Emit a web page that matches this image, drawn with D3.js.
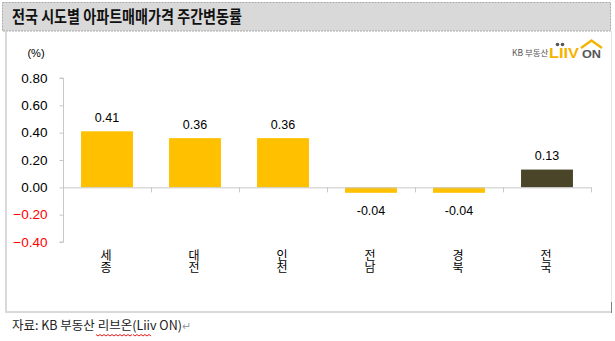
<!DOCTYPE html>
<html>
<head>
<meta charset="utf-8">
<script src="https://cdn.jsdelivr.net/npm/d3@7"></script>
<style>
  html, body { margin: 0; padding: 0; background: #fff; }
  svg { display: block; }
  .vcat { writing-mode: vertical-rl; text-orientation: upright; }
</style>
</head>
<body>
<svg id="chart" width="615" height="341"></svg>
<script>
// Weekly apartment sale price change by region (%)
const regions = ["세종", "대전", "인천", "전남", "경북", "전국"];
const changes = [0.41, 0.36, 0.36, -0.04, -0.04, 0.13];
const yTicks = [0.8, 0.6, 0.4, 0.2, 0.0, -0.2, -0.4];

const svg = d3.select("#chart");
const KR = "'Malgun Gothic','Noto Sans CJK KR',sans-serif";
const NUM = "'Liberation Sans',Arial,sans-serif";

// Title bar
svg.append("rect")
  .attr("x", 2.5).attr("y", 2.5).attr("width", 608).attr("height", 28.5)
  .attr("fill", "#d9d9d9").attr("stroke", "#a6a6a6")
  .attr("stroke-dasharray", "2,1");
svg.append("text")
  .attr("x", 12).attr("y", 23)
  .attr("font-family", KR).attr("font-size", 16.5).attr("font-weight", "bold")
  .attr("fill", "#111")
  .attr("textLength", 230).attr("lengthAdjust", "spacingAndGlyphs")
  .text("전국 시도별 아파트매매가격 주간변동률");

// Chart frame
const frame = svg.append("g").attr("fill", "none");
frame.append("line").attr("x1", 6).attr("x2", 6).attr("y1", 31).attr("y2", 312)
  .attr("stroke", "#d9d9d9").attr("stroke-width", 2);
frame.append("line").attr("x1", 5).attr("x2", 611).attr("y1", 312).attr("y2", 312)
  .attr("stroke", "#d9d9d9").attr("stroke-width", 2);
frame.append("line").attr("x1", 611.5).attr("x2", 611.5).attr("y1", 31).attr("y2", 303)
  .attr("stroke", "#e6e6e6").attr("stroke-width", 1);
frame.append("line").attr("x1", 611.5).attr("x2", 611.5).attr("y1", 302).attr("y2", 313)
  .attr("stroke", "#808080").attr("stroke-width", 1);

// Scales
const x = d3.scaleBand().domain(regions).range([63, 591]).paddingInner(0.41).paddingOuter(0.205);
const y = d3.scaleLinear().domain([-0.4, 0.8]).range([242, 78]);

// Y axis
const yAxis = d3.axisLeft(y).tickValues(yTicks).tickSize(4).tickPadding(12)
  .tickFormat(d3.format(".2f"));
const gy = svg.append("g").attr("transform", "translate(63.5,0)").call(yAxis);
gy.select(".domain").attr("stroke", "#c8c8c8").attr("d", `M-4,${y(0.8)}H0V${y(-0.4)}H-4`);
gy.selectAll(".tick line").attr("stroke", "#c8c8c8");
gy.selectAll(".tick text")
  .attr("font-family", NUM).attr("font-size", 13.5)
  .attr("fill", d => d < 0 ? "#ff0000" : "#000");

svg.append("text").attr("x", 36).attr("y", 57).attr("text-anchor", "middle")
  .attr("font-family", NUM).attr("font-size", 11).attr("fill", "#000").text("(%)");

// Bars
svg.append("g").selectAll("rect").data(regions).join("rect")
  .attr("x", d => x(d))
  .attr("width", x.bandwidth())
  .attr("y", (d, i) => y(Math.max(0, changes[i])))
  .attr("height", (d, i) => Math.abs(y(changes[i]) - y(0)))
  .attr("fill", (d, i) => d === "전국" ? "#4a4429" : "#ffc000");

// Zero line with category separators
const step = x.step();
const gx = svg.append("g").attr("stroke", "#c8c8c8").attr("fill", "none");
gx.append("line").attr("x1", 63).attr("x2", 591).attr("y1", y(0) + 0.5).attr("y2", y(0) + 0.5);
regions.forEach((d, i) => {
  const bx = Math.round(x(d) - x.paddingOuter() * step + step) + 0.5;
  gx.append("line").attr("x1", bx).attr("x2", bx).attr("y1", y(0)).attr("y2", y(0) + 5);
});

// Value labels
svg.append("g").selectAll("text").data(regions).join("text")
  .attr("x", d => x(d) + x.bandwidth() / 2)
  .attr("y", (d, i) => changes[i] >= 0 ? y(changes[i]) - 9.5 : y(changes[i]) + 22)
  .attr("text-anchor", "middle")
  .attr("font-family", NUM).attr("font-size", 12.5).attr("fill", "#000")
  .text((d, i) => changes[i].toFixed(2));

// Category labels, set in vertical writing mode
svg.append("g").selectAll("text").data(regions).join("text")
  .attr("class", "vcat")
  .attr("x", d => x(d) + x.bandwidth() / 2 - 1)
  .attr("y", 249)
  .attr("font-family", KR).attr("font-size", 12).attr("fill", "#000")
  .text(d => d);

// Brand mark
const logo = svg.append("g");
logo.append("text").attr("x", 512).attr("y", 55.5)
  .attr("font-family", KR).attr("font-size", 8.5).attr("fill", "#555").text("KB 부동산");
logo.append("text").attr("x", 549).attr("y", 58)
  .attr("font-family", NUM).attr("font-size", 15).attr("font-weight", "bold")
  .attr("fill", "#f5b400").attr("textLength", 30).attr("lengthAdjust", "spacingAndGlyphs")
  .text("LIIV");
[557.5, 562.5].forEach(cx => logo.append("circle").attr("cx", cx).attr("cy", 44.5).attr("r", 1.8).attr("fill", "#555"));
logo.append("text").attr("x", 582).attr("y", 58)
  .attr("font-family", NUM).attr("font-size", 11.5).attr("font-weight", "bold")
  .attr("fill", "#555").attr("textLength", 19).attr("lengthAdjust", "spacingAndGlyphs")
  .text("ON");
logo.append("path").attr("d", "M581,48 L591.5,40.5 L602,48")
  .attr("fill", "none").attr("stroke", "#f5b400").attr("stroke-width", 2.4)
  .attr("stroke-linejoin", "miter");

// Source note
const src = svg.append("text").attr("x", 12).attr("y", 330)
  .attr("font-family", KR).attr("font-size", 12.5).attr("fill", "#222");
src.append("tspan").text("자료: KB 부동산  리브온(Liiv ON)");
src.append("tspan").attr("fill", "#999").attr("font-size", 11).text("↵");

// Wavy proofing underline beneath the brand name
function wavy(x0, x1, yy) {
  let p = `M${x0},${yy}`;
  for (let xx = x0, k = 0; xx < x1; xx += 2, k++) p += ` L${xx + 2},${yy + (k % 2 ? 0 : 1.5)}`;
  return p;
}
svg.append("path").attr("d", wavy(96, 131, 334.5) + " " + wavy(133, 150, 334.5))
  .attr("fill", "none").attr("stroke", "#e00000").attr("stroke-width", 0.9);
</script>
</body>
</html>
